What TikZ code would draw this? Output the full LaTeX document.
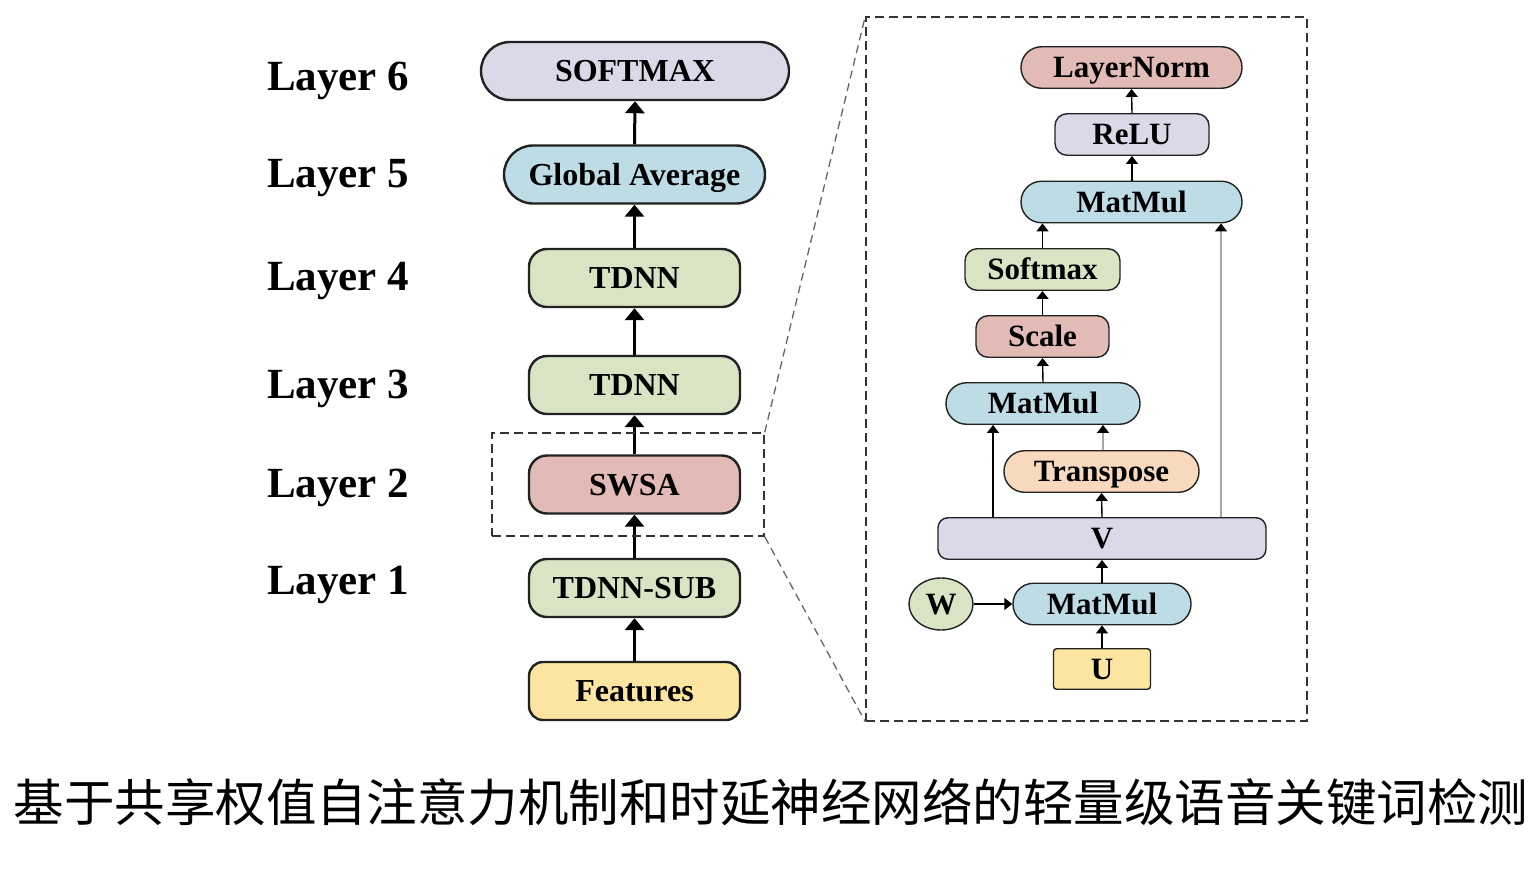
\documentclass[tikz,border=0pt]{standalone}
\usepackage{fontspec}
\setmainfont{Liberation Serif}
\newfontfamily\cjk{Noto Sans CJK SC}
\usetikzlibrary{arrows.meta,shapes.geometric}
\definecolor{clav}{HTML}{DCD8E8}
\definecolor{cblue}{HTML}{BEDCE6}
\definecolor{cgreen}{HTML}{D8E4C4}
\definecolor{cpink}{HTML}{E2BAB6}
\definecolor{cyel}{HTML}{FBE5A0}
\definecolor{cpeach}{HTML}{F8D9BE}
\definecolor{cline}{HTML}{222222}
\begin{document}
\begin{tikzpicture}[x=1pt,y=-1pt,
  lbox/.style={draw=cline, line width=2.4pt, inner sep=0pt, minimum height=58pt,
    font=\bfseries\fontsize{32}{32}\selectfont, text height=21pt, text depth=0pt},
  rbox/.style={draw=cline, line width=1.4pt, inner sep=0pt, minimum height=41.5pt,
    font=\bfseries\fontsize{31}{31}\selectfont, text height=20.5pt, text depth=0pt},
  lay/.style={anchor=west, inner sep=0pt, font=\bfseries\fontsize{43}{43}\selectfont,
    text height=29pt, text depth=0pt},
  larr/.style={line width=3pt, -{Triangle[width=19pt,length=12pt]}},
  rarr/.style={line width=1.4pt, -{Triangle[width=12pt,length=8pt]}},
  garr/.style={line width=1.4pt, draw=gray!70, -{Triangle[width=12pt,length=8pt,color=black]}},
  dbox/.style={draw=black!80, line width=1.5pt, dash pattern=on 9pt off 5pt},
  zline/.style={draw=black!60, line width=1.3pt, dash pattern=on 8pt off 5pt}]
\useasboundingbox (0,0) rectangle (1534,870);

% layer labels
\node[lay] (t6) at (267,75.5) {Layer 6};
\node[lay] (t5) at (267,172.5) {Layer 5};
\node[lay] (t4) at (267,276) {Layer 4};
\node[lay] (t3) at (267,384) {Layer 3};
\node[lay] (t2) at (267,483) {Layer 2};
\node[lay] (t1) at (267,580) {Layer 1};

% left column
\node[lbox, fill=clav, minimum width=308pt, rounded corners=29pt] (l6) at (635,71) {SOFTMAX};
\node[lbox, fill=cblue, minimum width=261pt, rounded corners=29pt] (l5) at (634.5,174.5) {Global Average};
\node[lbox, fill=cgreen, minimum width=211pt, rounded corners=18pt] (l4) at (634.5,278) {TDNN};
\node[lbox, fill=cgreen, minimum width=211pt, rounded corners=18pt] (l3) at (634.5,385) {TDNN};
\node[lbox, fill=cpink, minimum width=211pt, rounded corners=18pt] (l2) at (634.5,484.5) {SWSA};
\node[lbox, fill=cgreen, minimum width=211pt, rounded corners=18pt] (l1) at (634.5,588) {TDNN-SUB};
\node[lbox, fill=cyel, minimum width=211pt, rounded corners=14pt] (l0) at (634.5,691) {Features};

\draw[larr] (l0.north) -- (l1.south);
\draw[larr] (l1.north) -- (l2.south);
\draw[larr] (l2.north) -- (l3.south);
\draw[larr] (l3.north) -- (l4.south);
\draw[larr] (l4.north) -- (l5.south);
\draw[larr] (l5.north) -- (l6.south);

% dashed boxes and zoom lines
\node[dbox, inner sep=0pt, minimum width=272pt, minimum height=103pt] (swbox) at (628,484.5) {};
\node[dbox, inner sep=0pt, minimum width=441pt, minimum height=704pt] (zbox) at (1086.5,369) {};
\draw[zline] (swbox.north east) -- (zbox.north west);
\draw[zline] (swbox.south east) -- (zbox.south west);

% right column
\node[rbox, fill=cpink, minimum width=221pt, rounded corners=20.5pt] (ln) at (1131.5,67.5) {LayerNorm};
\node[rbox, fill=clav, minimum width=154pt, rounded corners=12pt] (relu) at (1132,134.5) {ReLU};
\node[rbox, fill=cblue, minimum width=221pt, rounded corners=20.5pt] (mm3) at (1131.5,202) {MatMul};
\node[rbox, fill=cgreen, minimum width=155pt, rounded corners=12pt] (sm) at (1042.5,269.5) {Softmax};
\node[rbox, fill=cpink, minimum width=133pt, rounded corners=12pt] (sc) at (1042.5,336.5) {Scale};
\node[rbox, fill=cblue, minimum width=194pt, rounded corners=20.5pt] (mm2) at (1043,403.5) {MatMul};
\node[rbox, fill=cpeach, minimum width=195pt, rounded corners=20.5pt] (tr) at (1101.5,471.5) {Transpose};
\node[rbox, fill=clav, minimum width=328pt, rounded corners=10pt] (V) at (1102,538.5) {V};
\node[rbox, fill=cgreen, ellipse, minimum width=64pt, minimum height=52pt] (W) at (941,604) {W};
\node[rbox, fill=cblue, minimum width=178pt, rounded corners=20.5pt] (mm1) at (1102,604) {MatMul};
\node[rbox, fill=cyel, minimum width=97pt, minimum height=40.5pt, rounded corners=3pt] (U) at (1102,669) {U};

\coordinate (c1) at (993,0);
\coordinate (c2) at (1221,0);
\coordinate (c3) at (1103,0);

\draw[rarr] (U.north) -- (mm1.south);
\draw[rarr] (W.east) -- (W.east -| mm1.west);
\draw[rarr] (mm1.north) -- (V.south);
\draw[rarr] (V.north) -- (tr.south);
\draw[rarr] (c1 |- V.north) -- (c1 |- mm2.south);
\draw[garr] (c3 |- tr.north) -- (c3 |- mm2.south);
\draw[rarr] (mm2.north) -- (sc.south);
\draw[rarr] (sc.north) -- (sm.south);
\draw[rarr] (sm.north) -- (sm.north |- mm3.south);
\draw[garr] (c2 |- V.north) -- (c2 |- mm3.south);
\draw[rarr] (mm3.north -| relu.south) -- (relu.south);
\draw[rarr] (relu.north) -- (ln.south);

% caption
\node[inner sep=0pt, font=\cjk\fontsize{50.5}{50.5}\selectfont] (cap) at (771,802) {基于共享权值自注意力机制和时延神经网络的轻量级语音关键词检测};
\end{tikzpicture}
\end{document}
